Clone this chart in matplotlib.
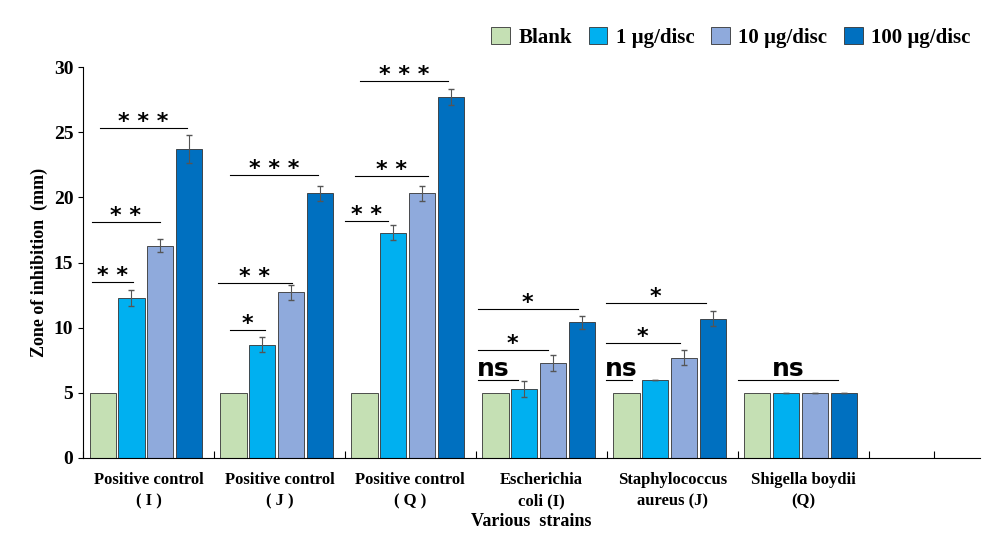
import numpy as np
import matplotlib.pyplot as plt

plt.rcParams['font.family'] = ['Liberation Serif', 'DejaVu Serif']

strains = ['Positive control\n( I )', 'Positive control\n( J )', 'Positive control\n( Q )',
           'Escherichia\ncoli (I)', 'Staphylococcus\naureus (J)', 'Shigella boydii\n(Q)']
series = ['Blank', '1 µg/disc', '10 µg/disc', '100 µg/disc']
blank = [5, 5, 5, 5, 5, 5]
d1 = [12.3, 8.7, 17.3, 5.3, 6.0, 5.0]
d10 = [16.3, 12.7, 20.3, 7.3, 7.7, 5.0]
d100 = [23.7, 20.3, 27.7, 10.4, 10.7, 5.0]
err1 = [0.6, 0.6, 0.6, 0.6, 0, 0]
err10 = [0.5, 0.6, 0.6, 0.6, 0.6, 0]
err100 = [1.1, 0.6, 0.6, 0.5, 0.6, 0]
colors = ['#c5e0b4', '#00b0f0', '#8faadc', '#0070c0']

# significance: (x start px, x end px, y, label)
sig = [(92, 133, 13.5, '**'), (92, 160, 18.1, '**'), (100, 187, 25.3, '***'),
       (230, 265, 9.8, '*'), (218, 292, 13.4, '**'), (230, 318, 21.7, '***'),
       (345, 388, 18.2, '**'), (355, 428, 21.6, '**'), (360, 448, 28.9, '***'),
       (478, 518, 6.0, 'ns'), (478, 548, 8.3, '*'), (478, 578, 11.4, '*'),
       (606, 632, 6.0, 'ns'), (606, 680, 8.8, '*'), (606, 706, 11.9, '*'),
       (738, 838, 6.0, 'ns')]

fig = plt.figure(figsize=(10.02, 5.47), dpi=100)
ax = fig.add_axes([83/1002, 1-458/547, (980-83)/1002, (458-67)/547])

x = np.arange(len(strains))
vals = [blank, d1, d10, d100]
errs = [None, err1, err10, err100]
for i in range(4):
    ax.bar(x + 0.15 + 0.22*i, vals[i], 0.2, color=colors[i], edgecolor='#333333', linewidth=0.6,
           yerr=errs[i], ecolor='#555555', capsize=2.5, error_kw={'elinewidth': 0.8}, label=series[i])

for x0, x1, y, lab in sig:
    u0, u1 = (x0-83)/131, (x1-83)/131
    ax.plot([u0, u1], [y, y], color='black', lw=0.8)
    if lab == 'ns':
        ax.text((u0+u1)/2 if u1-u0 > 0.5 else u0+0.12, y - 0.1, lab, ha='center', va='bottom',
                fontsize=18, fontweight='bold', family='DejaVu Sans')
    else:
        ax.text((u0+u1)/2, y - 0.3, ' '.join(lab), ha='center', va='bottom', fontsize=16,
                fontweight='bold', family='DejaVu Sans')

ax.set_xlim(0, 6.85)
ax.set_ylim(0, 30)
ax.set_xticks([0, 1, 2, 3, 4, 5, 6, 6.5])
ax.set_xticklabels([])
ax.set_xticks(x + 0.5, minor=True)
ax.set_xticklabels(strains, minor=True, fontsize=12, fontweight='bold', linespacing=1.5)
ax.tick_params(axis='x', which='minor', length=0, pad=10)
ax.tick_params(axis='x', which='major', length=5, direction='in')
ax.set_yticks(range(0, 31, 5))
ax.tick_params(axis='y', labelsize=14, direction='out')
for t in ax.get_yticklabels():
    t.set_fontweight('bold')
ax.spines['top'].set_visible(False)
ax.spines['right'].set_visible(False)
ax.set_ylabel('Zone of inhibition  (mm)', fontsize=13, fontweight='bold')
ax.set_xlabel('Various  strains', fontsize=13, fontweight='bold', labelpad=2)
ax.legend(loc='upper right', bbox_to_anchor=(1.01, 1.15), ncol=4, frameon=False,
          prop={'size': 15, 'weight': 'bold'}, handlelength=0.9, handleheight=0.9,
          columnspacing=0.8, handletextpad=0.4)

fig.savefig('out.png')
